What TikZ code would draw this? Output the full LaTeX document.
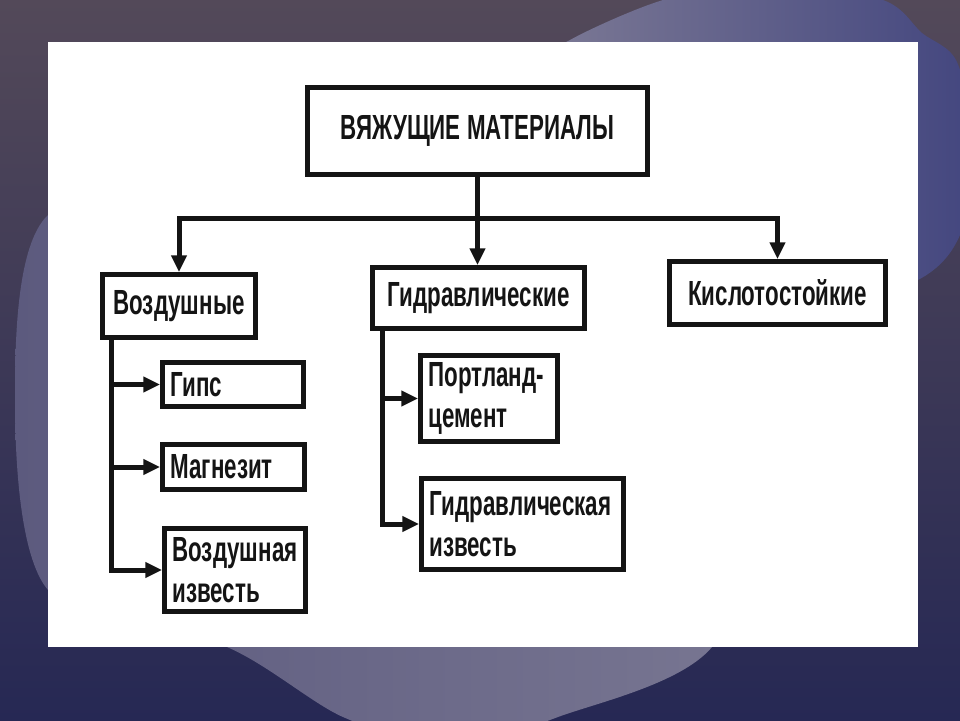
\documentclass[tikz,border=0pt]{standalone}
\usepackage{fontspec}
\newfontfamily\cond{Liberation Sans}[FakeStretch=0.64]
\usetikzlibrary{arrows.meta}
\definecolor{ink}{HTML}{141414}
\definecolor{bgtop}{HTML}{534959}
\definecolor{bgmid}{HTML}{3B3860}
\definecolor{bgbot}{HTML}{262854}
\definecolor{urA}{HTML}{7D7A95}
\definecolor{urB}{HTML}{43467F}
\definecolor{llA}{HTML}{5C5A7E}
\definecolor{llB}{HTML}{7A7893}
\begin{document}
\begin{tikzpicture}[x=0.03cm,y=-0.03cm,
  box/.style={draw=ink, line width=0.15cm, fill=white, inner sep=0pt, text=ink,
    font=\cond\bfseries\fontsize{29.8}{34.5}\selectfont},
  cbox/.style={box, align=center},
  lbox/.style={box, align=left, inner xsep=0.24cm},
  conn/.style={draw=ink, line width=0.15cm},
  arr/.style={conn, -{Triangle[length=0.5cm,width=0.45cm]}}]
\useasboundingbox (0,0) rectangle (960,720);
% background
\shade[top color=bgtop, middle color=bgmid, bottom color=bgbot] (0,0) rectangle (960,720);
\shade[left color=llA, right color=llB] plot[smooth cycle] coordinates
  {(48,215) (15,400) (48,590) (227,647) (343,717) (450,745) (558,717) (712,647) (780,450) (600,200) (250,180)};
\shade[left color=urA, right color=urB] plot[smooth cycle] coordinates
  {(540,70) (570,40) (663,0) (770,-20) (883,0) (922,33) (957,62) (975,150) (960,235) (918,280) (800,320) (620,200)};
\fill[white] (48,42) rectangle (918,647);
% nodes
\node[cbox, minimum width=10.2cm, minimum height=2.61cm] (top) at (477.5,131) {ВЯЖУЩИЕ МАТЕРИАЛЫ};
\node[cbox, minimum width=4.59cm, minimum height=1.89cm] (vozd) at (179,306) {Воздушные};
\node[cbox, minimum width=6.36cm, minimum height=1.83cm] (gidr) at (478.5,298) {Гидравлические};
\node[cbox, minimum width=6.48cm, minimum height=1.89cm] (kisl) at (777.5,293) {Кислотостойкие};
\node[lbox, text width=3.75cm, minimum height=1.32cm] (gips) at (233,384.5) {Гипс};
\node[lbox, text width=3.78cm, minimum height=1.35cm] (magn) at (233.5,467) {Магнезит};
\node[lbox, text width=3.75cm, minimum height=2.49cm] (vizv) at (235,570) {Воздушная\\известь};
\node[lbox, text width=3.63cm, minimum height=2.58cm] (port) at (489,398.5) {Портланд-\\цемент};
\node[lbox, text width=5.58cm, minimum height=2.73cm] (gizv) at (522.5,524) {Гидравлическая\\известь};
% connectors
\coordinate (busy) at (0,218);
\coordinate (bus) at (top.south |- busy);
\draw[arr] (top.south) -- (top.south |- gidr.north);
\draw[arr] (bus) -| (vozd.north);
\draw[arr] (bus) -| (kisl.north);
\coordinate (lt) at ([xshift=0.36cm]vozd.south west);
\draw[arr] (lt) |- (vizv.west);
\draw[arr] (lt |- gips.west) -- (gips.west);
\draw[arr] (lt |- magn.west) -- (magn.west);
\coordinate (mt) at ([xshift=0.36cm]gidr.south west);
\draw[arr] (mt) |- (gizv.west);
\draw[arr] (mt |- port.west) -- (port.west);
\end{tikzpicture}
\end{document}
